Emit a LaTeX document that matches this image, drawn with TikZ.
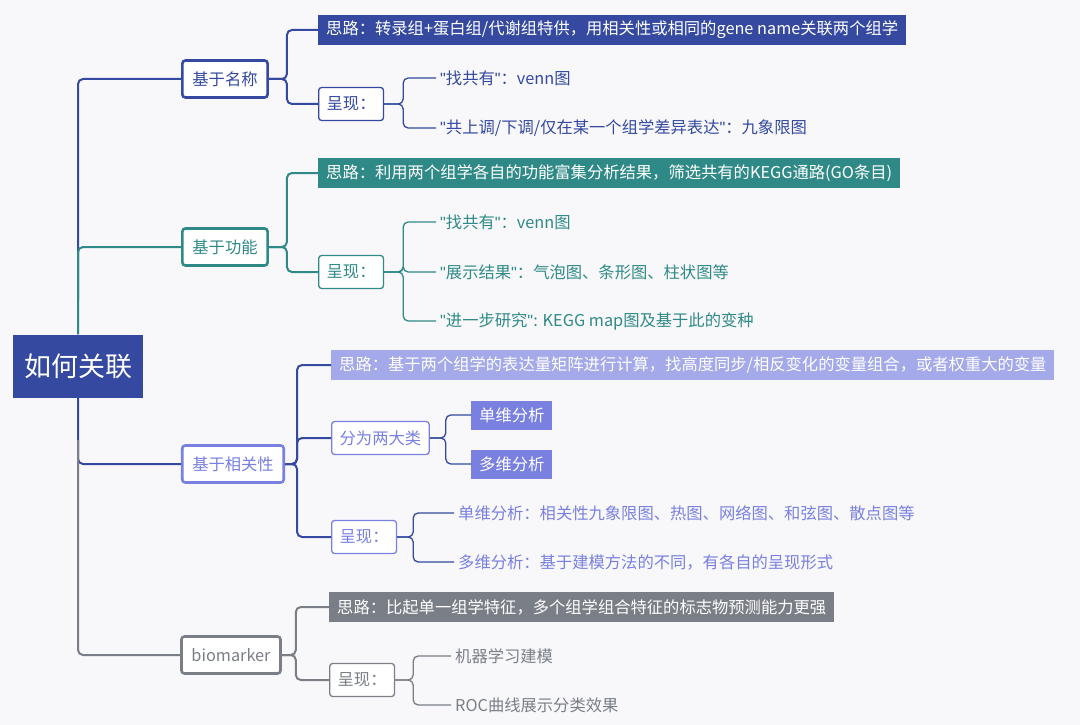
\documentclass[tikz,border=0pt]{standalone}
\usepackage{fontspec}
\setmainfont{Noto Sans CJK SC}[Ligatures=NoCommon]
\newfontfamily\quotefont{Liberation Sans}[Ligatures=NoCommon]
\usetikzlibrary{positioning}
\definecolor{cBlue}{HTML}{34499F}
\definecolor{cTeal}{HTML}{2F8A87}
\definecolor{cPurp}{HTML}{7980E0}
\definecolor{cPurpL}{HTML}{A4A9EA}
\definecolor{cGrey}{HTML}{7A7E86}
\definecolor{cBg}{HTML}{F8F8FA}
\newcommand{\qt}{{\quotefont\symbol{34}}}
\begin{document}
\begin{tikzpicture}[x=1pt,y=-1pt,font=\fontsize{16.3}{18}\selectfont,
    branch/.style={draw=#1,line width=2.6pt,rounded corners=3pt,fill=white,text=#1,
        minimum height=37pt,inner xsep=10pt},
    idea/.style={fill=#1,text=white,minimum height=30pt,inner xsep=8pt,anchor=west},
    show/.style={draw=#1,line width=1.3pt,rounded corners=3pt,fill=white,text=#1,
        minimum height=33pt,inner xsep=8pt,anchor=west},
    tag/.style={fill=#1,text=white,minimum height=29pt,inner xsep=8pt,anchor=west},
    leaf/.style={text=#1,anchor=west,inner xsep=0pt},
    link/.style={draw=#1,line width=2pt,rounded corners=5pt},
    twig/.style={draw=#1,line width=1.3pt,rounded corners=5pt}]
    \fill[cBg] (0,0) rectangle (1080,725);
    % root
    \node[fill=cBlue,text=white,minimum width=130pt,minimum height=63pt,
        font=\fontsize{27}{30}\selectfont] (root) at (78,366) {如何关联};
    % branches
    \node[branch=cBlue] (name) at (225,79) {基于名称};
    \node[branch=cTeal] (func) at (225,247) {基于功能};
    \node[branch=cPurp] (corr) at (233,464) {基于相关性};
    \node[branch=cGrey] (bio) at (231,655) {biomarker};
    \draw[link=cBlue] (root.north) -- (78,100) |- (name.west);
    \draw[link=cTeal] (78,300) |- (func.west);
    \draw[link=cTeal] (root.north) -- (78,300);
    \draw[link=cBlue] (root.south) |- (corr.west);
    \draw[link=cGrey] (78,440) |- (bio.west);
    % 基于名称
    \node[idea=cBlue] (nameIdea) at (318,30) {思路：转录组+蛋白组/代谢组特供，用相关性或相同的gene name关联两个组学};
    \node[show=cBlue] (nameShow) at (318,104) {呈现：};
    \node[leaf=cBlue] (nameA) at (440,78) {\qt 找共有\qt ：venn图};
    \node[leaf=cBlue] (nameB) at (440,128) {\qt 共上调/下调/仅在某一个组学差异表达\qt ：九象限图};
    \foreach \t in {nameIdea,nameShow}
        \draw[link=cBlue] (name.east) -- ++(18,0) |- (\t.west);
    \foreach \t in {nameA,nameB}
        \draw[twig=cBlue] (nameShow.east) -- ++(19,0) |- ([xshift=-4pt]\t.west);
    % 基于功能
    \node[idea=cTeal] (funcIdea) at (318,173) {思路：利用两个组学各自的功能富集分析结果，筛选共有的KEGG通路(GO条目)};
    \node[show=cTeal] (funcShow) at (318,272) {呈现：};
    \node[leaf=cTeal] (funcA) at (440,222) {\qt 找共有\qt ：venn图};
    \node[leaf=cTeal] (funcB) at (440,272) {\qt 展示结果\qt ：气泡图、条形图、柱状图等};
    \node[leaf=cTeal] (funcC) at (440,321) {\qt 进一步研究\qt : KEGG map图及基于此的变种};
    \foreach \t in {funcIdea,funcShow}
        \draw[link=cTeal] (func.east) -- ++(18,0) |- (\t.west);
    \foreach \t in {funcA,funcB,funcC}
        \draw[twig=cTeal] (funcShow.east) -- ++(19,0) |- ([xshift=-4pt]\t.west);
    % 基于相关性
    \node[idea=cPurpL] (corrIdea) at (331,365) {思路：基于两个组学的表达量矩阵进行计算，找高度同步/相反变化的变量组合，或者权重大的变量};
    \node[show=cPurp] (corrType) at (331,438) {分为两大类};
    \node[show=cPurp] (corrShow) at (331,537) {呈现：};
    \node[tag=cPurp] (corrUni) at (471,415) {单维分析};
    \node[tag=cPurp] (corrMul) at (471,464) {多维分析};
    \node[leaf=cPurp] (corrA) at (458,513) {单维分析：相关性九象限图、热图、网络图、和弦图、散点图等};
    \node[leaf=cPurp] (corrB) at (458,562) {多维分析：基于建模方法的不同，有各自的呈现形式};
    \foreach \t in {corrIdea,corrType,corrShow}
        \draw[link=cBlue] (corr.east) -- ++(12,0) |- (\t.west);
    \foreach \t in {corrUni,corrMul}
        \draw[twig=cBlue] (corrType.east) -- ++(16,0) |- (\t.west);
    \foreach \t in {corrA,corrB}
        \draw[twig=cBlue] (corrShow.east) -- ++(16,0) |- ([xshift=-4pt]\t.west);
    % biomarker
    \node[idea=cGrey] (bioIdea) at (329,607) {思路：比起单一组学特征，多个组学组合特征的标志物预测能力更强};
    \node[show=cGrey] (bioShow) at (329,680) {呈现：};
    \node[leaf=cGrey] (bioA) at (455,656) {机器学习建模};
    \node[leaf=cGrey] (bioB) at (455,705) {ROC曲线展示分类效果};
    \foreach \t in {bioIdea,bioShow}
        \draw[link=cGrey] (bio.east) -- ++(14,0) |- (\t.west);
    \foreach \t in {bioA,bioB}
        \draw[twig=cGrey] (bioShow.east) -- ++(18,0) |- ([xshift=-4pt]\t.west);
\end{tikzpicture}
\end{document}
